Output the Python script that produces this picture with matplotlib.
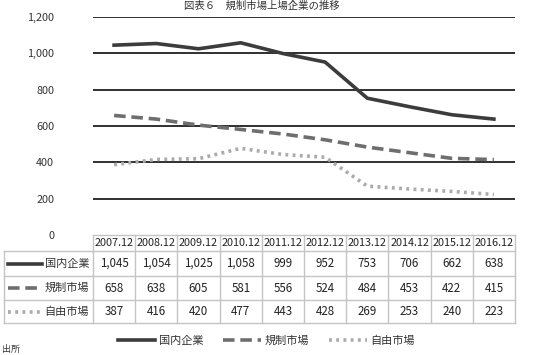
import matplotlib
matplotlib.use("Agg")
import matplotlib.pyplot as plt
from matplotlib.lines import Line2D

plt.rcParams['font.family'] = ['Noto Sans CJK JP', 'DejaVu Sans']

categories = ["2007.12", "2008.12", "2009.12", "2010.12", "2011.12",
              "2012.12", "2013.12", "2014.12", "2015.12", "2016.12"]
domestic = [1045, 1054, 1025, 1058, 999, 952, 753, 706, 662, 638]
regulated = [658, 638, 605, 581, 556, 524, 484, 453, 422, 415]
free_market = [387, 416, 420, 477, 443, 428, 269, 253, 240, 223]
series_names = ["国内企業", "規制市場", "自由市場"]
yticks = [0, 200, 400, 600, 800, 1000, 1200]
title = "図表６　規制市場上場企業の推移"

W, H = 540, 355
fig = plt.figure(figsize=(W / 100, H / 100), dpi=100)

def fx(px):
    return px / W

def fy(py):
    return 1 - py / H

L, R = 93, 515
T, B = 17, 235
ax = fig.add_axes([fx(L), fy(B), fx(R) - fx(L), fy(T) - fy(B)])
x = list(range(len(categories)))
styles = [
    dict(color='#3c3c3c', linestyle='-', linewidth=2.6),
    dict(color='#6e6e6e', linestyle=(0, (3.2, 1.6)), linewidth=2.6),
    dict(color='#ababab', linestyle=(0, (0.8, 1.2)), linewidth=2.6),
]
data = [domestic, regulated, free_market]
for vals, st, nm in zip(data, styles, series_names):
    ax.plot(x, vals, label=nm, **st, zorder=3)

ax.set_xlim(-0.5, len(categories) - 0.5)
ax.set_ylim(0, 1200)
ax.set_yticks(yticks)
ax.set_yticklabels([f"{v:,}" for v in yticks], fontsize=7.8, color='#333333')
ax.tick_params(axis='y', length=0, pad=28)
ax.set_xticks([])
for v in yticks[1:]:
    ax.axhline(v, color='#303030', linewidth=1.4, zorder=1)
for s in ax.spines.values():
    s.set_visible(False)
ax.patch.set_alpha(0)

# table
TT, TB = 235, 323
tax = fig.add_axes([fx(L), fy(TB), fx(R) - fx(L), fy(TT) - fy(TB)])
tax.set_xlim(-0.5, len(categories) - 0.5)
tax.set_ylim(TB, TT)
tax.axis('off')
colw = (R - L) / len(categories)
left_x = -0.5 - (L - 4) / colw
row_edges = [235, 251, 276, 300, 323]
gc = '#c4c4c4'
for i, ye in enumerate(row_edges):
    x0 = -0.5 if i == 0 else left_x
    tax.plot([x0, len(categories) - 0.5], [ye, ye], color=gc, lw=1, clip_on=False)
for i in range(len(categories) + 1):
    tax.plot([i - 0.5, i - 0.5], [235, 323], color=gc, lw=1, clip_on=False)
tax.plot([left_x, left_x], [251, 323], color=gc, lw=1, clip_on=False)

for i, c in enumerate(categories):
    tax.text(i, 243.5, c, ha='center', va='center', fontsize=7.8, color='#222222')
for r, (vals, st, nm) in enumerate(zip(data, styles, series_names)):
    yc = (row_edges[r + 1] + row_edges[r + 2]) / 2
    for i, v in enumerate(vals):
        tax.text(i, yc, f"{v:,}", ha='center', va='center', fontsize=8.3, color='#222222')
    sx0 = left_x + 4 / colw
    sx1 = left_x + 38 / colw
    tax.plot([sx0, sx1], [yc, yc], clip_on=False, **st)
    tax.text(-0.5 - 4 / colw, yc, nm, ha='right', va='center', fontsize=8, color='#333333')

# legend
handles = [Line2D([0], [0], **st) for st in styles]
fig.legend(handles, series_names, loc='center', bbox_to_anchor=(fx(266), fy(341)),
           ncol=3, frameon=False, fontsize=8, handlelength=3.4, handletextpad=0.3,
           columnspacing=1.8, labelcolor='#333333')

fig.text(fx(262), fy(1), title, ha='center', va='top', fontsize=7.5, color='#333333')
fig.text(fx(2), fy(354), "出所", ha='left', va='bottom', fontsize=6.5, color='#333333')

fig.savefig("out.png", dpi=100)
